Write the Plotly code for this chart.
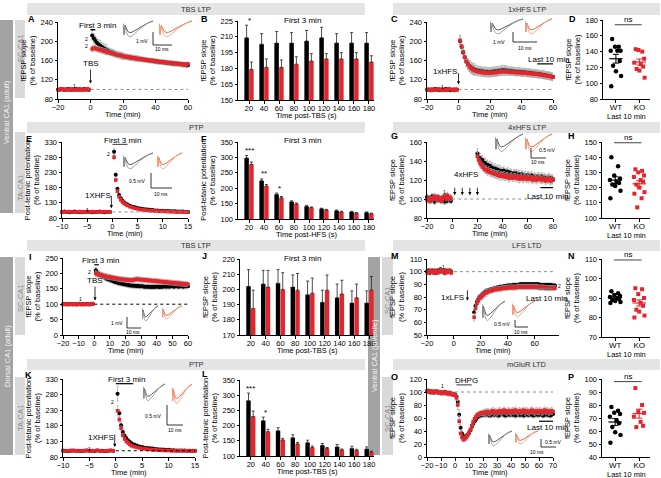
import numpy as np
import plotly.graph_objects as go

W, H = 661, 478
FONT = "Liberation Sans, Arial, Helvetica, sans-serif"
BLK = "#000000"
RED = "#e4252b"
EGREY = "#a3a3a3"

# ======================= DATA =======================
BAR_CATS = [20, 40, 60, 80, 100, 120, 140, 160, 180]

# ---- A: ventral SC-CA1, TBS LTP
A_base_t = list(range(-20, 0))
A_base_wt = [100, 99, 101, 100, 99, 100, 101, 100, 99, 100, 100, 101, 99, 100, 100, 99, 101, 100, 100, 99]
A_base_ko = [99, 100, 100, 101, 99, 100, 99, 100, 101, 100, 99, 100, 100, 101, 99, 100, 99, 100, 101, 100]
A_post_t = list(range(1, 61))
A_post_wt = [212, 206, 201, 197, 194, 191, 188, 186, 184, 182,
             180, 178, 177, 176, 174, 173, 172, 171, 170, 169,
             168, 168, 167, 166, 166, 165, 165, 164, 164, 163,
             163, 162, 162, 161, 161, 160, 160, 159, 159, 158,
             158, 157, 157, 157, 156, 156, 155, 155, 155, 154,
             154, 153, 153, 153, 152, 152, 151, 151, 150, 150]
A_post_ko = [184, 186, 185, 184, 183, 182, 181, 180, 179, 178,
             177, 176, 175, 174, 173, 172, 171, 171, 170, 169,
             168, 168, 167, 167, 166, 165, 165, 164, 164, 163,
             163, 162, 162, 161, 161, 160, 160, 160, 159, 159,
             158, 158, 157, 157, 157, 156, 156, 155, 155, 155,
             154, 154, 154, 153, 153, 153, 152, 152, 152, 153]
A_err_wt_blocks = [10, 7, 6, 5, 5, 5]
A_err_ko_blocks = [6, 5, 4, 4, 4, 4]

# ---- B: first 3 min, ventral TBS
B_wt = [209, 203, 204, 204, 206, 209, 204, 204, 204]
B_wt_err = [12, 10, 11, 10, 10, 10, 9, 10, 10]
B_ko = [179, 181, 181, 184, 187, 189, 189, 189, 186]
B_ko_err = [7, 8, 7, 7, 7, 5, 6, 6, 6]

# ---- C: ventral 1xHFS LTP
C_base_t = list(range(-20, 0))
C_base_wt = [99, 100, 98, 100, 99, 101, 100, 99, 98, 100, 99, 100, 101, 99, 100, 98, 99, 100, 99, 100]
C_base_ko = [100, 99, 100, 98, 100, 99, 100, 101, 99, 100, 100, 98, 99, 100, 101, 100, 99, 98, 100, 99]
C_post_t = list(range(1, 61))
C_post_wt = [200, 188, 176, 166, 158, 153, 149, 146, 144, 142,
             141, 140, 139, 139, 138, 137, 137, 137, 136, 136,
             137, 137, 138, 138, 139, 139, 140, 141, 141, 140,
             140, 139, 139, 138, 138, 138, 137, 137, 137, 136,
             136, 136, 135, 135, 135, 134, 134, 133, 133, 133,
             132, 132, 131, 131, 130, 129, 129, 128, 127, 126]
C_post_ko = [202, 190, 178, 167, 158, 152, 147, 143, 141, 139,
             138, 137, 136, 136, 135, 135, 134, 134, 134, 134,
             134, 135, 135, 135, 136, 136, 137, 137, 137, 137,
             137, 136, 136, 136, 136, 135, 135, 135, 135, 134,
             134, 134, 134, 133, 133, 133, 132, 132, 132, 131,
             131, 130, 130, 129, 129, 128, 128, 127, 126, 125]
C_err_wt_blocks = [11, 9, 9, 8, 8, 8]
C_err_ko_blocks = [10, 8, 8, 7, 7, 7]

# ---- D: last 10 min (1xHFS)
D_wt = [156, 146, 146, 141, 141, 141, 128, 122, 115, 109, 96]
D_ko = [143, 140, 142, 131, 126, 124, 121, 118, 116, 107]

# ---- E: ventral TA-CA1 PTP
E_base_t = [-10, -9.5, -9, -8.5, -8, -7.5, -7, -6.5, -6, -5.5, -5, -4.5, -4, -3.5, -3, -2.5, -2, -1.5, -1, -0.5]
E_base_wt = [100, 101, 100, 99, 100, 101, 100, 100, 99, 100, 101, 100, 99, 100, 100, 101, 100, 99, 100, 100]
E_base_ko = [99, 100, 100, 101, 100, 99, 100, 101, 100, 100, 99, 100, 101, 100, 99, 100, 100, 101, 100, 99]
PTP_T = [0.33, 0.67, 1.0, 1.33, 1.67, 2.0, 2.33, 2.67, 3.0, 3.5, 4.0, 4.5, 5.0, 5.5, 6.0, 6.5, 7.0,
         7.5, 8.0, 8.5, 9.0, 9.5, 10.0, 10.5, 11.0, 11.5, 12.0, 12.5, 13.0, 13.5, 14.0, 14.5, 15.0]
E_post_wt = [298, 222, 176, 156, 145, 137, 131, 127, 124, 120, 117, 115, 113, 111, 110, 109, 108,
             107, 106, 105, 105, 104, 104, 103, 103, 102, 102, 102, 101, 101, 101, 100, 100]
E_post_ko = [280, 205, 168, 150, 140, 133, 128, 124, 121, 117, 114, 112, 110, 108, 107, 106, 105,
             104, 104, 103, 103, 102, 102, 102, 101, 101, 101, 100, 100, 100, 100, 99, 99]
E_err_wt = [9, 6, 4, 3, 3, 2, 2, 2, 2, 2, 2, 2, 2, 2, 2, 2, 2, 2, 2, 2, 2, 2, 2, 2, 2, 2, 2, 2, 2, 2, 2, 2, 2]
E_err_ko = [8, 6, 4, 3, 2, 2, 2, 2, 2, 2, 2, 2, 2, 2, 2, 2, 2, 2, 2, 2, 2, 2, 2, 2, 2, 2, 2, 2, 2, 2, 2, 2, 2]

# ---- F: first 3 min PTP ventral
F_wt = [298, 224, 180, 156, 141, 133, 127, 123, 121]
F_wt_err = [8, 6, 4, 3, 3, 2, 2, 2, 2]
F_ko = [277, 207, 169, 149, 137, 129, 123, 119, 117]
F_ko_err = [8, 5, 4, 3, 2, 2, 2, 2, 2]

# ---- G: ventral 4xHFS LTP
G_base_t = list(range(-20, 0))
G_base_wt = [102, 99, 101, 98, 103, 100, 97, 101, 99, 102, 100, 98, 101, 99, 97, 100, 98, 101, 99, 98]
G_base_ko = [99, 101, 98, 100, 99, 101, 103, 100, 102, 99, 101, 100, 98, 102, 103, 101, 104, 100, 102, 101]
G_post_t = list(range(20, 81))
G_post_wt = [148, 144, 143, 140, 141, 138, 138, 136, 136, 134,
             135, 133, 133, 131, 132, 130, 131, 129, 130, 128,
             129, 130, 127, 128, 129, 126, 128, 127, 125, 127,
             126, 127, 125, 126, 124, 126, 125, 124, 125, 123,
             125, 124, 123, 125, 122, 124, 123, 122, 124, 123,
             122, 124, 121, 123, 122, 121, 122, 123, 120, 122, 120]
G_post_ko = [145, 141, 138, 136, 134, 133, 131, 131, 129, 130,
             128, 128, 127, 127, 126, 126, 125, 126, 124, 125,
             124, 125, 123, 124, 124, 122, 123, 124, 122, 123,
             123, 122, 124, 121, 122, 123, 121, 122, 123, 121,
             122, 121, 123, 121, 120, 122, 121, 120, 122, 121,
             121, 120, 122, 121, 119, 121, 120, 121, 119, 120, 121]
G_err_wt_blocks = [5, 5, 4, 4, 4, 4, 4]
G_err_ko_blocks = [4, 4, 4, 4, 4, 4, 4]

# ---- H: last 10 min (4xHFS)
H_wt = [140, 134, 128, 126, 125, 124, 123, 122, 121, 118, 113]
H_ko = [132, 131, 130, 128, 127, 125, 124, 122, 120, 117, 116, 113, 107]

# ---- I: dorsal SC-CA1, TBS LTP
I_base_t = list(range(-20, 0))
I_base_wt = [100, 101, 99, 100, 100, 101, 99, 100, 100, 99, 101, 100, 100, 99, 100, 101, 100, 99, 100, 101]
I_base_ko = [99, 100, 101, 100, 99, 100, 100, 101, 99, 100, 100, 99, 101, 100, 100, 99, 100, 101, 100, 102]
I_post_t = list(range(1, 61))
I_post_wt = [210, 203, 198, 195, 192, 189, 186, 183, 181, 179,
             177, 175, 173, 171, 170, 168, 167, 166, 165, 164,
             163, 162, 161, 161, 160, 160, 159, 159, 158, 158,
             158, 157, 157, 157, 157, 156, 157, 156, 157, 157,
             157, 156, 157, 157, 158, 157, 158, 157, 158, 158,
             157, 158, 158, 157, 158, 158, 157, 158, 158, 158]
I_post_ko = [200, 197, 196, 195, 194, 192, 191, 190, 189, 188,
             187, 186, 185, 184, 183, 182, 181, 181, 180, 180,
             179, 179, 178, 178, 179, 180, 181, 181, 180, 180,
             179, 179, 178, 178, 177, 177, 176, 176, 175, 175,
             174, 174, 173, 173, 172, 172, 171, 171, 170, 170,
             169, 169, 168, 168, 167, 167, 166, 166, 165, 165]
I_err_wt_blocks = [9, 8, 8, 8, 8, 8]
I_err_ko_blocks = [9, 8, 8, 8, 8, 8]

# ---- J: first 3 min, dorsal TBS
J_wt = [202, 203.5, 204, 201.5, 196.5, 191.5, 194.5, 191, 191]
J_wt_err = [11, 9, 9, 8, 9, 8, 9, 8, 8]
J_ko = [187.5, 201.5, 200, 199.5, 197.5, 199.5, 197, 194.5, 199.5]
J_ko_err = [12, 11, 11, 11, 10, 10, 9, 9, 9]

# ---- K: dorsal TA-CA1 PTP
K_base_t = [-10, -9.5, -9, -8.5, -8, -7.5, -7, -6.5, -6, -5.5, -5, -4.5, -4, -3.5, -3, -2.5, -2, -1.5, -1, -0.5]
K_base_wt = [101, 100, 99, 100, 101, 100, 100, 99, 100, 101, 100, 100, 99, 101, 100, 100, 99, 100, 101, 100]
K_base_ko = [100, 99, 100, 101, 100, 100, 99, 100, 100, 101, 99, 100, 100, 101, 100, 99, 100, 100, 101, 100]
K_post_wt = [283, 220, 182, 160, 148, 140, 133, 128, 124, 120, 117, 114, 112, 110, 109, 108, 107,
             106, 105, 104, 104, 103, 103, 102, 102, 101, 101, 101, 101, 100, 100, 100, 100]
K_post_ko = [228, 200, 172, 150, 138, 130, 125, 120, 116, 113, 111, 109, 107, 106, 105, 104, 103,
             103, 102, 102, 101, 101, 101, 100, 100, 100, 100, 100, 100, 100, 100, 100, 100]
K_err_wt = [24, 12, 10, 8, 7, 6, 5, 5, 4, 3, 3, 3, 3, 3, 3, 3, 3, 3, 3, 3, 3, 3, 3, 3, 3, 3, 3, 3, 3, 3, 3, 3, 3]
K_err_ko = [16, 10, 8, 6, 5, 4, 4, 3, 3, 2, 2, 2, 2, 2, 2, 2, 2, 2, 2, 2, 2, 2, 2, 2, 2, 2, 2, 2, 2, 2, 2, 2, 2]

# ---- L: first 3 min PTP dorsal
L_wt = [282, 216, 183, 160, 144, 135, 130, 125, 123]
L_wt_err = [25, 12, 10, 10, 8, 6, 8, 7, 7]
L_ko = [230, 180, 153, 140, 128, 125, 120, 118, 113]
L_ko_err = [18, 8, 5, 5, 5, 3, 3, 4, 3]

# ---- M: juvenile LFS LTD
M_base_t = list(range(-20, -1))
M_base_wt = [100, 101, 99, 100, 101, 100, 99, 100, 101, 100, 102, 101, 100, 99, 101, 100, 100, 101, 100]
M_base_ko = [100, 99, 100, 101, 100, 99, 101, 100, 99, 100, 101, 100, 100, 101, 99, 100, 101, 100, 99]
M_post_t = list(range(15, 76))
M_post_wt = [68, 73, 76, 78, 80, 81, 82, 83, 84, 84.5,
             85, 85.5, 86, 86, 86.5, 87, 87, 87.5, 87.5, 88,
             88, 88, 88.5, 88.5, 88.5, 89, 89, 89, 89, 89.5,
             89.5, 89.5, 89.5, 89.5, 90, 90, 90, 90, 90, 90,
             90, 90, 90, 90, 90, 90, 90, 90, 90, 89.5,
             89.5, 89.5, 89.5, 89.5, 89.5, 89.5, 89.5, 89.5, 89, 89, 89]
M_post_ko = [64, 71, 75, 77, 79, 80, 81, 82, 83, 83.5,
             84, 84.5, 85, 85, 85.5, 86, 86, 86, 86.5, 86.5,
             86.5, 87, 87, 87, 87, 87.5, 87.5, 87.5, 87.5, 87.5,
             87.5, 87.5, 88, 88, 88, 88, 88, 88, 88, 88,
             88, 88, 88, 88, 88, 88, 88, 88, 87.5, 87.5,
             87.5, 87.5, 87.5, 87, 87, 87, 87, 87, 87, 87, 87]
M_err_wt_blocks = [2, 1.5, 1.5, 1.5, 1.5, 1.5, 1.5]
M_err_ko_blocks = [3, 2, 2, 2, 2, 2, 2]

# ---- N: last 10 min (LFS)
N_wt = [93.5, 92.5, 91.5, 91, 90.5, 90, 89.5, 89, 88.5, 88, 87.5]
N_ko = [95, 94.5, 92, 90, 89, 87.5, 86, 84, 83, 81, 80]

# ---- O: juvenile mGluR LTD
O_t = list(range(-20, 71))
O_wt = [102, 101, 100, 101, 100, 99, 100, 101, 99, 100, 99, 98, 99, 100, 99, 98, 99, 98, 97, 97,
        96, 93, 85, 65, 45, 36, 32, 31, 32, 34, 37, 41, 46, 51, 55, 58, 61, 63, 64, 65, 65,
        66, 65, 66, 65, 64, 65, 66, 65, 66, 65, 64, 65, 66, 66, 65, 64, 65, 66, 65, 66,
        65, 66, 64, 65, 66, 65, 65, 66, 64, 65, 66, 65, 65, 66, 65, 64, 65, 66, 65, 65,
        66, 65, 64, 65, 66, 65, 65, 64, 65, 66]
O_ko = [101, 102, 100, 99, 101, 100, 101, 100, 99, 100, 98, 99, 100, 98, 99, 97, 98, 97, 96, 96,
        95, 91, 80, 55, 36, 30, 27, 28, 30, 33, 37, 42, 48, 54, 59, 62, 65, 66, 67, 68, 68,
        69, 68, 70, 69, 68, 70, 71, 69, 70, 68, 70, 71, 69, 70, 72, 70, 69, 71, 70, 69,
        71, 70, 72, 70, 69, 71, 70, 70, 72, 69, 71, 70, 69, 71, 72, 70, 69, 71, 70, 70,
        71, 69, 70, 72, 70, 71, 69, 70, 71, 70]
O_err_wt = [3] * 20 + [3, 4, 6, 8, 6, 5, 4, 4, 4, 4, 4, 4, 4, 4, 4, 4, 4, 4, 4, 4, 4] + [4] * 50
O_err_ko = [3] * 20 + [3, 4, 7, 9, 6, 5, 4, 4, 4, 4, 4, 4, 4, 4, 4, 4, 4, 4, 4, 4, 4] + [5] * 50

# ---- P: last 10 min (mGluR)
P_wt = [78.5, 75.5, 74, 73, 71, 68, 66, 63, 59, 57, 51]
P_ko = [93, 80, 75, 74, 71, 67, 64, 63]

# inset waveform templates (sample traces)
WAVE_T = [0, 0.5, 1.0, 1.6, 2.4, 3.4, 4.5, 5.8, 7.2, 9, 11, 13, 15]
WAVE_1 = [0.0, -0.95, -0.15, -0.45, -0.68, -0.78, -0.74, -0.62, -0.46, -0.27, -0.08, 0.10, 0.22]
WAVE_2 = [0.0, -0.95, -0.25, -0.72, -1.02, -1.15, -1.08, -0.90, -0.66, -0.36, -0.08, 0.12, 0.26]
JIT = [-0.16, 0.12, -0.04, 0.2, -0.22, 0.06, 0.16, -0.12, 0.0, 0.22, -0.2, 0.1, -0.08]


def blocks(vals, n):
    return list(np.repeat(vals, 10))[:n]

# ======================= FIGURE =======================
fig = go.Figure()
layout = dict(width=W, height=H, margin=dict(l=0, r=0, t=0, b=0), paper_bgcolor="white",
              plot_bgcolor="rgba(0,0,0,0)", showlegend=False, barmode="overlay",
              font=dict(family=FONT, size=8, color=BLK))
shapes, anns = [], []
AX = dict(showline=True, linecolor=BLK, linewidth=1, ticks="outside", ticklen=2.5, tickwidth=1,
          tickcolor=BLK, showgrid=False, zeroline=False, fixedrange=True, automargin=False,
          tickangle=0, tickfont=dict(size=7.5, family=FONT, color=BLK))
cnt = [0]


def add_axes(box, xkw, ykw, hidden=False, xtitle=None, tdy=15):
    x0, x1, y0, y1 = box
    cnt[0] += 1
    s = "" if cnt[0] == 1 else str(cnt[0])
    base = dict(visible=False, fixedrange=True, automargin=False) if hidden else dict(AX)
    xa = dict(base); xa.update(domain=[x0 / W, x1 / W], anchor="y" + s); xa.update(xkw)
    ya = dict(base); ya.update(domain=[1 - y1 / H, 1 - y0 / H], anchor="x" + s); ya.update(ykw)
    if not hidden:
        xa["ticklabelstandoff"] = -2
    layout["xaxis" + s] = xa
    layout["yaxis" + s] = ya
    if xtitle:
        txt((x0 + x1) / 2, y1 + tdy, xtitle, 7.5)
    return "x" + s, "y" + s


def ttl(text, standoff=2, size=7.5):
    return dict(text=text, font=dict(size=size, family=FONT, color=BLK), standoff=standoff)


def txt(x, y, text, size=8, color=BLK, bold=False, angle=0, xanchor="center"):
    if bold:
        text = "<b>" + text + "</b>"
    anns.append(dict(xref="paper", yref="paper", x=x / W, y=1 - y / H, text=text, showarrow=False,
                     font=dict(size=size, family=FONT, color=color), textangle=angle,
                     xanchor=xanchor, yanchor="middle"))


def dtxt(xr, yr, x, y, text, size=5, color=BLK):
    anns.append(dict(xref=xr, yref=yr, x=x, y=y, text=text, showarrow=False,
                     font=dict(size=size, family=FONT, color=color)))


def rect(x0, y0, x1, y1, color):
    shapes.append(dict(type="rect", xref="paper", yref="paper", x0=x0 / W, x1=x1 / W,
                       y0=1 - y1 / H, y1=1 - y0 / H, fillcolor=color, line=dict(width=0), layer="below"))


def pline(x0, y0, x1, y1, color=BLK, width=1):
    shapes.append(dict(type="line", xref="paper", yref="paper", x0=x0 / W, x1=x1 / W,
                       y0=1 - y0 / H, y1=1 - y1 / H, line=dict(color=color, width=width)))


def dline(xr, yr, x0, x1, y, color=BLK, width=1, dash="solid"):
    shapes.append(dict(type="line", xref=xr, yref=yr, x0=x0, x1=x1, y0=y, y1=y,
                       line=dict(color=color, width=width, dash=dash)))


def arrow(xr, yr, x, ytip, length, text=""):
    anns.append(dict(xref=xr, yref=yr, x=x, y=ytip, ax=0, ay=-length, text=text, showarrow=True,
                     arrowhead=2, arrowsize=0.8, arrowwidth=0.8, arrowcolor=BLK,
                     font=dict(size=8, family=FONT, color=BLK)))


def pts(xr, yr, t, y, err, color, sym, size=4):
    fig.add_trace(go.Scatter(x=t, y=y, xaxis=xr, yaxis=yr, mode="markers", cliponaxis=False,
                             marker=dict(color=color, size=size, symbol=sym, line=dict(width=0)),
                             error_y=dict(type="data", array=err, color=EGREY, thickness=0.7, width=1),
                             hoverinfo="skip"))


def timecourse(box, xrange_, xticks, yrange_, yticks, ytitle, series, tfs=7.5):
    xr, yr = add_axes(box, dict(range=xrange_, tickvals=xticks,
                                tickfont=dict(size=tfs, family=FONT, color=BLK)),
                      dict(range=yrange_, tickvals=yticks, title=ttl(ytitle, 3)), xtitle="Time (min)")
    for t, y, e, c, s in series:
        pts(xr, yr, t, y, e, c, s, 4 if s == "circle" else 3.6)
    return xr, yr


def barpanel(box, yrange_, yticks, wt, wte, ko, koe, xtitle, ytitle, stars=()):
    xr, yr = add_axes(box, dict(range=[5.3, 186.7], tickvals=BAR_CATS),
                      dict(range=yrange_, tickvals=yticks, title=ttl(ytitle, 3)), xtitle=xtitle)
    n = len(BAR_CATS)
    for vals, errs, col, off in ((wt, wte, BLK, -6.2), (ko, koe, RED, 0.2)):
        fig.add_trace(go.Bar(x=BAR_CATS, y=vals, width=6, offset=off, xaxis=xr, yaxis=yr,
                             marker=dict(color=col, line=dict(width=0)),
                             error_y=dict(type="data", symmetric=False, array=errs, arrayminus=[0] * n,
                                          color="#222222", thickness=0.8, width=1.5),
                             hoverinfo="skip"))
    for i, s in stars:
        top = wt[i] + wte[i]
        anns.append(dict(xref=xr, yref=yr, x=BAR_CATS[i], y=top, yshift=5, text=s, showarrow=False,
                         font=dict(size=8, family=FONT, color=BLK)))
    return xr, yr


def dotpanel(box, yrange_, yticks, wt, ko, ns_y):
    xr, yr = add_axes(box, dict(range=[-0.55, 1.45], tickvals=[0, 1], ticktext=["WT", "KO"],
                                tickfont=dict(size=8, family=FONT, color=BLK)),
                      dict(range=yrange_, tickvals=yticks, title=ttl("fEPSP slope<br>(% of baseline)", 3)),
                      xtitle="Last 10 min", tdy=17.5)
    for vals, xc, col, sym in ((wt, 0, BLK, "circle"), (ko, 1, RED, "square")):
        xs = [xc + JIT[i % len(JIT)] for i in range(len(vals))]
        fig.add_trace(go.Scatter(x=xs, y=vals, xaxis=xr, yaxis=yr, mode="markers", cliponaxis=False,
                                 marker=dict(color=col, size=4.5 if sym == "circle" else 4, symbol=sym,
                                             line=dict(width=0)), hoverinfo="skip"))
        m = float(np.mean(vals))
        sem = float(np.std(vals, ddof=1) / np.sqrt(len(vals)))
        fig.add_trace(go.Scatter(x=[xc - 0.28, xc + 0.28], y=[m, m], xaxis=xr, yaxis=yr, mode="lines",
                                 line=dict(color=col, width=1.2), hoverinfo="skip"))
        fig.add_trace(go.Scatter(x=[xc], y=[m], xaxis=xr, yaxis=yr, mode="markers",
                                 marker=dict(size=1, color=col, opacity=0),
                                 error_y=dict(type="data", array=[sem], color=col, thickness=1, width=3),
                                 hoverinfo="skip"))
    dline(xr, yr, -0.05, 1.1, ns_y, color="#444444", width=1)
    anns.append(dict(xref=xr, yref=yr, x=0.52, y=ns_y, yshift=5, text="ns", showarrow=False,
                     font=dict(size=8, family=FONT, color=BLK)))
    return xr, yr


def inset(g, o, vbar, hbar, vlab, hlab):
    for box, c1, c2 in ((g, "#444444", "#9a9a9a"), (o, "#e8552f", "#f4a283")):
        xr, yr = add_axes(box, dict(range=[0, 15]), dict(range=[-1.25, 0.32]), hidden=True)
        for w, c in ((WAVE_1, c1), (WAVE_2, c2)):
            fig.add_trace(go.Scatter(x=WAVE_T, y=w, xaxis=xr, yaxis=yr, mode="lines",
                                     line=dict(color=c, width=0.9), hoverinfo="skip"))
    pline(vbar[0], vbar[1], vbar[0], vbar[2], width=0.8)
    pline(hbar[0], hbar[2], hbar[1], hbar[2], width=0.8)
    txt(vlab[1], vlab[2], vlab[0], size=5)
    txt(hlab[1], hlab[2], hlab[0], size=5)


FEP = "fEPSP slope<br>(% of baseline)"
PTPT = "Post-tetanic potentiation<br>(% of baseline)"
circ, sq = "circle", "square"

# ---------------- side labels & banners ----------------
DARK, LIGHT, BAN = "#a3a3a3", "#d9d9d9", "#e4e4e4"
rect(0, 20, 13, 213, DARK); txt(7, 112, "Ventral CA1 (adult)", 7.5, "#f2f2f2", angle=-90)
rect(15, 20, 25, 98, LIGHT); txt(20, 48, "SC-CA1", 7.5, "#8c8c8c", angle=-90)
rect(15, 132, 25, 213, LIGHT); txt(20, 188, "TA-CA1", 7.5, "#8c8c8c", angle=-90)
rect(0, 257, 13, 455, DARK); txt(7, 356, "Dorsal CA1 (adult)", 7.5, "#f2f2f2", angle=-90)
rect(15, 257, 25, 335, LIGHT); txt(20, 298, "SC-CA1", 7.5, "#8c8c8c", angle=-90)
rect(15, 377, 25, 455, LIGHT); txt(20, 418, "TA-CA1", 7.5, "#8c8c8c", angle=-90)
rect(368, 257, 380, 455, DARK); txt(374, 356, "Ventral CA1 (juvenile)", 7.5, "#f2f2f2", angle=-90)
rect(382, 257, 393, 335, LIGHT); txt(387, 300, "SC-CA1", 7.5, "#8c8c8c", angle=-90)
rect(382, 377, 393, 455, LIGHT); txt(387, 418, "SC-CA1", 7.5, "#8c8c8c", angle=-90)

for (x0, x1, y0, y1, label) in ((27, 365, 3, 15, "TBS LTP"), (393, 660, 3, 15, "1xHFS LTP"),
                                (27, 365, 122, 133, "PTP"), (393, 660, 122, 133, "4xHFS LTP"),
                                (27, 365, 240, 251, "TBS LTP"), (393, 660, 240, 251, "LFS LTD"),
                                (27, 365, 359, 370, "PTP"), (393, 660, 359, 370, "mGluR LTD")):
    rect(x0, y0, x1, y1, BAN)
    txt((x0 + x1) / 2, (y0 + y1) / 2, label, 7.5, "#333333")

for (x, y, L) in ((31, 19, "A"), (205, 19, "B"), (395, 19, "C"), (572, 19, "D"),
                  (29, 139, "E"), (204, 139, "F"), (395, 136, "G"), (571, 136, "H"),
                  (30, 257, "I"), (205, 256, "J"), (395, 256, "M"), (571, 256, "N"),
                  (28, 375, "K"), (205, 374, "L"), (395, 377, "O"), (571, 377, "P")):
    txt(x, y, L, 9, bold=True)

# ---------------- A ----------------
xr, yr = timecourse((58, 188, 22, 99), [-20, 60], [-20, 0, 20, 40, 60], [80, 240], [80, 120, 160, 200, 240], FEP,
                    [(A_base_t, A_base_wt, [2] * 20, BLK, circ), (A_post_t, A_post_wt, blocks(A_err_wt_blocks, 60), BLK, circ),
                     (A_base_t, A_base_ko, [2] * 20, RED, sq), (A_post_t, A_post_ko, blocks(A_err_ko_blocks, 60), RED, sq)])
dline(xr, yr, 0, 60, 100, color="#8c8c8c", dash="dot")
txt(97, 25, "First 3 min", 8)
dline(xr, yr, 0, 3, 224, width=1.5)
arrow(xr, yr, 0, 112, 20, "TBS")
dtxt(xr, yr, -10, 106, "1"); dtxt(xr, yr, -2.5, 205, "2"); dtxt(xr, yr, -2.5, 190, "2")
inset((123, 153, 20, 38), (159, 192, 20, 38), (153, 32, 45), (153, 172, 45), ("1 mV", 142, 41), ("10 ms", 162, 49))

# ---------------- B ----------------
barpanel((238, 374, 21, 100), [150, 225], [150, 165, 180, 195, 210, 225], B_wt, B_wt_err, B_ko, B_ko_err,
         "Time post-TBS (s)", FEP, stars=[(0, "*")])
txt(302, 20, "First 3 min", 8)

# ---------------- C ----------------
xr, yr = timecourse((427, 553, 22, 99), [-20, 60], [-20, 0, 20, 40, 60], [80, 240], [80, 120, 160, 200, 240], FEP,
                    [(C_base_t, C_base_wt, [2] * 20, BLK, circ), (C_post_t, C_post_wt, blocks(C_err_wt_blocks, 60), BLK, circ),
                     (C_base_t, C_base_ko, [2] * 20, RED, sq), (C_post_t, C_post_ko, blocks(C_err_ko_blocks, 60), RED, sq)])
dline(xr, yr, 0, 60, 100, color="#8c8c8c", dash="dot")
txt(445, 72, "1xHFS", 8)
arrow(xr, yr, 0, 110, 13)
txt(548, 59, "Last 10 min", 8)
dline(xr, yr, 50, 60, 153, width=1.2)
dtxt(xr, yr, -10, 105, "1"); dtxt(xr, yr, 64.5, 124, "2")
inset((490, 523, 18, 35), (525, 552, 18, 35), (513, 32, 42), (513, 537, 42), ("1 mV", 499, 42), ("10 ms", 525, 48))

# ---------------- D ----------------
dotpanel((603, 650, 20, 99), [80, 180], [80, 100, 120, 140, 160, 180], D_wt, D_ko, 174)

# ---------------- E ----------------
xr, yr = timecourse((62, 188, 142, 218), [-10, 15], [-10, -5, 0, 5, 10, 15], [80, 330], [80, 130, 180, 230, 280, 330], PTPT,
                    [(E_base_t, E_base_wt, [2] * 20, BLK, circ), (PTP_T, E_post_wt, E_err_wt, BLK, circ),
                     (E_base_t, E_base_ko, [2] * 20, RED, sq), (PTP_T, E_post_ko, E_err_ko, RED, sq)])
dline(xr, yr, 0, 15, 100, color="#8c8c8c", dash="dot")
txt(122, 140, "First 3 min", 8)
dline(xr, yr, 0, 3, 322, color="#555555", width=1.2)
txt(98, 195, "1XHFS", 8)
arrow(xr, yr, -0.2, 112, 14)
dtxt(xr, yr, -0.8, 290, "2"); dtxt(xr, yr, -5, 107, "1")
inset((123, 153, 152, 170), (157, 182, 152, 170), (151, 173, 188), (151, 172, 188), ("0.5 mV", 137, 181), ("10 ms", 161, 194))

# ---------------- F ----------------
barpanel((238, 374, 142, 219), [100, 350], [100, 150, 200, 250, 300, 350], F_wt, F_wt_err, F_ko, F_ko_err,
         "Time post-HFS (s)", PTPT, stars=[(0, "***"), (1, "**"), (2, "*")])
txt(302, 140, "First 3 min", 8)

# ---------------- G ----------------
xr, yr = timecourse((427, 553, 142, 218), [-20, 80], [-20, 0, 20, 40, 60, 80], [80, 160], [80, 100, 120, 140, 160], FEP,
                    [(G_base_t, G_base_wt, [3] * 20, BLK, circ), (G_post_t, G_post_wt, blocks(G_err_wt_blocks, 61), BLK, circ),
                     (G_base_t, G_base_ko, [3] * 20, RED, sq), (G_post_t, G_post_ko, blocks(G_err_ko_blocks, 61), RED, sq)])
dline(xr, yr, 0, 80, 100, color="#8c8c8c", dash="dot")
txt(466, 174, "4xHFS", 8)
for tx in (2, 8, 14, 20):
    arrow(xr, yr, tx, 104, 9)
txt(547, 196, "Last 10 min", 8)
dline(xr, yr, 70, 80, 112, width=1.2)
dtxt(xr, yr, -6, 107, "1"); dtxt(xr, yr, 84, 122, "2")
inset((495, 523, 133, 153), (525, 552, 133, 153), (531, 148, 158), (531, 546, 158), ("0.5 mV", 547, 150), ("10 ms", 538, 162))

# ---------------- H ----------------
dotpanel((602, 650, 142, 218), [100, 150], [100, 110, 120, 130, 140, 150], H_wt, H_ko, 149.5)

# ---------------- I ----------------
xr, yr = timecourse((63, 188, 258, 335), [-20, 60], [-20, -10, 0, 10, 20, 30, 40, 50, 60], [0, 250], [0, 50, 100, 150, 200, 250], FEP,
                    [(I_base_t, I_base_wt, [3] * 20, BLK, circ), (I_post_t, I_post_wt, blocks(I_err_wt_blocks, 60), BLK, circ),
                     (I_base_t, I_base_ko, [3] * 20, RED, sq), (I_post_t, I_post_ko, blocks(I_err_ko_blocks, 60), RED, sq)], tfs=7.5)
dline(xr, yr, 0, 60, 100, color=BLK, dash="dot")
txt(100, 260, "First 3 min", 8)
dline(xr, yr, 0, 3, 228, width=1.2)
arrow(xr, yr, 0.5, 112, 20, "TBS")
dtxt(xr, yr, -9, 118, "1"); dtxt(xr, yr, -3, 205, "2")
inset((142, 158, 305, 322), (162, 182, 305, 320), (127, 317, 328), (127, 141, 328), ("1 mV", 117, 323), ("10 ms", 133, 332))

# ---------------- J ----------------
barpanel((240, 374, 259, 335), [170, 220], [170, 180, 190, 200, 210, 220], J_wt, J_wt_err, J_ko, J_ko_err,
         "Time post-TBS (s)", FEP)
txt(302, 258, "First 3 min", 8)

# ---------------- M ----------------
xr, yr = timecourse((427, 559, 259, 335), [-20, 78], [-20, 0, 20, 40, 60], [50, 110], [50, 60, 70, 80, 90, 100, 110], FEP,
                    [(M_base_t, M_base_wt, [1.5] * 19, BLK, circ), (M_post_t, M_post_wt, blocks(M_err_wt_blocks, 61), BLK, circ),
                     (M_base_t, M_base_ko, [1.5] * 19, RED, sq), (M_post_t, M_post_ko, blocks(M_err_ko_blocks, 61), RED, sq)])
dline(xr, yr, 0, 75, 100, color="#8c8c8c", dash="dot")
txt(452, 297, "1xLFS", 8)
arrow(xr, yr, 10, 77, 12)
txt(546, 298, "Last 10 min", 8)
dline(xr, yr, 62, 73, 86.5, color="#777777", width=1.2)
dtxt(xr, yr, -8, 104, "1"); dtxt(xr, yr, 78, 88.5, "2")
inset((482, 505, 300, 322), (512, 535, 300, 318), (515, 320, 327), (515, 528, 327), ("0.5 mV", 502, 324), ("10 ms", 521, 332))

# ---------------- N ----------------
dotpanel((602, 650, 259, 337), [70, 110], [70, 80, 90, 100, 110], N_wt, N_ko, 109.5)

# ---------------- K ----------------
xr, yr = timecourse((63, 195, 379, 457), [-10, 15], [-10, -5, 0, 5, 10, 15], [80, 330], [80, 130, 180, 230, 280, 330], PTPT,
                    [(K_base_t, K_base_wt, [2] * 20, BLK, circ), (PTP_T, K_post_wt, K_err_wt, BLK, circ),
                     (K_base_t, K_base_ko, [2] * 20, RED, sq), (PTP_T, K_post_ko, K_err_ko, RED, sq)])
dline(xr, yr, 0, 15, 100, color=BLK, dash="dot")
txt(126, 379, "First 3 min", 8)
dline(xr, yr, 0, 3.3, 315, width=1.2)
txt(101, 437, "1XHFS", 8)
arrow(xr, yr, -0.2, 112, 14)
dtxt(xr, yr, -0.6, 256, "2"); dtxt(xr, yr, -5, 107, "1")
inset((143, 165, 383, 402), (172, 192, 383, 405), (167, 405, 425), (167, 183, 425), ("0.5 mV", 153, 416), ("10 ms", 175, 430))

# ---------------- L ----------------
barpanel((240, 374, 380, 456), [100, 350], [100, 150, 200, 250, 300, 350], L_wt, L_wt_err, L_ko, L_ko_err,
         "Time post-TBS (s)", PTPT, stars=[(0, "***"), (1, "*")])

# ---------------- O ----------------
xr, yr = timecourse((427, 553, 379, 457), [-20, 70], [-20, -10, 0, 10, 20, 30, 40, 50, 60, 70], [0, 120], [0, 20, 40, 60, 80, 100, 120], FEP,
                    [(O_t, O_wt, O_err_wt, BLK, circ), (O_t, O_ko, O_err_ko, RED, sq)], tfs=7.5)
dline(xr, yr, 0, 70, 100, color="#8c8c8c", dash="dot")
txt(466, 380, "DHPG", 8)
dline(xr, yr, 1, 12, 111, color="#555555", width=1.2)
txt(547, 427, "Last 10 min", 8)
dline(xr, yr, 60, 70, 55, width=1.2)
dtxt(xr, yr, -9, 109, "1"); dtxt(xr, yr, 74, 67, "2")
inset((488, 512, 430, 447), (515, 538, 430, 445), (541, 439, 447), (541, 556, 447), ("0.5 mV", 553, 442), ("10 ms", 537, 452))

# ---------------- P ----------------
dotpanel((602, 650, 379, 457), [40, 100], [40, 50, 60, 70, 80, 90, 100], P_wt, P_ko, 98)

layout["shapes"] = shapes
layout["annotations"] = anns
fig.update_layout(**layout)
fig.write_html("out.html", config={"displayModeBar": False, "staticPlot": True},
               post_script="document.body.style.margin='0px';document.body.style.padding='0px';")
